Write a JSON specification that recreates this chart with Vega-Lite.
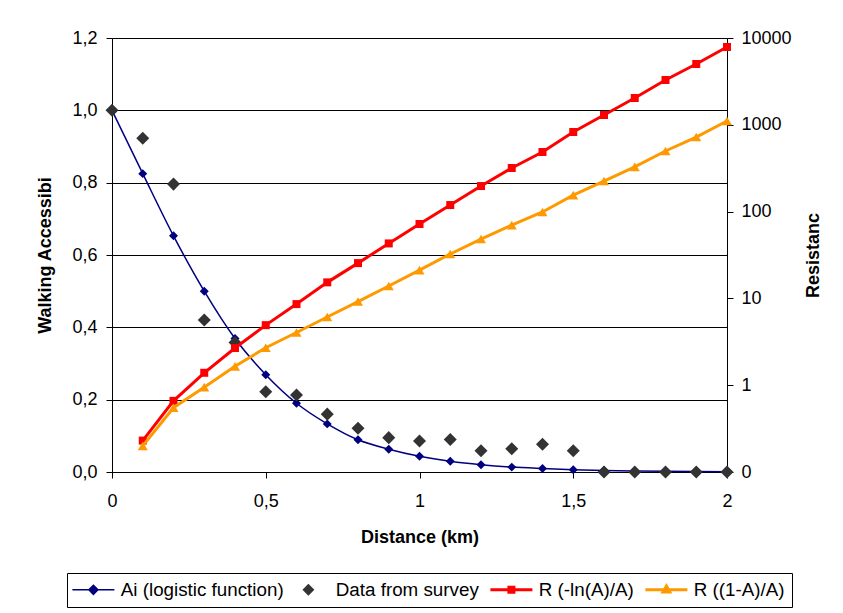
{
  "$schema": "https://vega.github.io/schema/vega-lite/v6.json",
  "width": 615,
  "height": 434,
  "autosize": {"type": "none"},
  "padding": {"left": 112, "top": 38, "right": 116, "bottom": 141},
  "background": "white",
  "config": {
    "font": "Liberation Sans",
    "view": {"stroke": null},
    "axis": {
      "labelFont": "Liberation Sans",
      "titleFont": "Liberation Sans",
      "labelFontSize": 18,
      "titleFontSize": 18,
      "titleFontWeight": "bold",
      "labelColor": "#000",
      "titleColor": "#000",
      "domainColor": "#000",
      "domainWidth": 1,
      "tickColor": "#000",
      "tickSize": 6,
      "tickWidth": 1,
      "grid": false
    },
    "legend": {"labelFont": "Liberation Sans"}
  },
  "data": {
    "values": [
      {"d": 0, "s": "Ai (logistic function)", "v": 1.0},
      {"d": 0.1, "s": "Ai (logistic function)", "v": 0.825},
      {"d": 0.2, "s": "Ai (logistic function)", "v": 0.653},
      {"d": 0.3, "s": "Ai (logistic function)", "v": 0.5},
      {"d": 0.4, "s": "Ai (logistic function)", "v": 0.369},
      {"d": 0.5, "s": "Ai (logistic function)", "v": 0.269},
      {"d": 0.6, "s": "Ai (logistic function)", "v": 0.19},
      {"d": 0.7, "s": "Ai (logistic function)", "v": 0.133},
      {"d": 0.8, "s": "Ai (logistic function)", "v": 0.089},
      {"d": 0.9, "s": "Ai (logistic function)", "v": 0.063},
      {"d": 1.0, "s": "Ai (logistic function)", "v": 0.0435},
      {"d": 1.1, "s": "Ai (logistic function)", "v": 0.0296},
      {"d": 1.2, "s": "Ai (logistic function)", "v": 0.02},
      {"d": 1.3, "s": "Ai (logistic function)", "v": 0.0135},
      {"d": 1.4, "s": "Ai (logistic function)", "v": 0.0095},
      {"d": 1.5, "s": "Ai (logistic function)", "v": 0.0062},
      {"d": 1.6, "s": "Ai (logistic function)", "v": 0.0042},
      {"d": 1.7, "s": "Ai (logistic function)", "v": 0.0029},
      {"d": 1.8, "s": "Ai (logistic function)", "v": 0.0019},
      {"d": 1.9, "s": "Ai (logistic function)", "v": 0.0013},
      {"d": 2.0, "s": "Ai (logistic function)", "v": 0.0009},
      {"d": 0, "s": "Data from survey", "v": 1.0},
      {"d": 0.1, "s": "Data from survey", "v": 0.923},
      {"d": 0.2, "s": "Data from survey", "v": 0.796},
      {"d": 0.3, "s": "Data from survey", "v": 0.42},
      {"d": 0.4, "s": "Data from survey", "v": 0.358},
      {"d": 0.5, "s": "Data from survey", "v": 0.222},
      {"d": 0.6, "s": "Data from survey", "v": 0.213},
      {"d": 0.7, "s": "Data from survey", "v": 0.16},
      {"d": 0.8, "s": "Data from survey", "v": 0.121},
      {"d": 0.9, "s": "Data from survey", "v": 0.095},
      {"d": 1.0, "s": "Data from survey", "v": 0.086},
      {"d": 1.1, "s": "Data from survey", "v": 0.09},
      {"d": 1.2, "s": "Data from survey", "v": 0.059},
      {"d": 1.3, "s": "Data from survey", "v": 0.064},
      {"d": 1.4, "s": "Data from survey", "v": 0.077},
      {"d": 1.5, "s": "Data from survey", "v": 0.059},
      {"d": 1.6, "s": "Data from survey", "v": 0},
      {"d": 1.7, "s": "Data from survey", "v": 0},
      {"d": 1.8, "s": "Data from survey", "v": 0},
      {"d": 1.9, "s": "Data from survey", "v": 0},
      {"d": 2.0, "s": "Data from survey", "v": 0},
      {"d": 0.1, "s": "R (-ln(A)/A)", "v": 0.23},
      {"d": 0.2, "s": "R (-ln(A)/A)", "v": 0.66},
      {"d": 0.3, "s": "R (-ln(A)/A)", "v": 1.39},
      {"d": 0.4, "s": "R (-ln(A)/A)", "v": 2.68},
      {"d": 0.5, "s": "R (-ln(A)/A)", "v": 4.92},
      {"d": 0.6, "s": "R (-ln(A)/A)", "v": 8.6},
      {"d": 0.7, "s": "R (-ln(A)/A)", "v": 15.3},
      {"d": 0.8, "s": "R (-ln(A)/A)", "v": 25.5},
      {"d": 0.9, "s": "R (-ln(A)/A)", "v": 43},
      {"d": 1.0, "s": "R (-ln(A)/A)", "v": 72},
      {"d": 1.1, "s": "R (-ln(A)/A)", "v": 119},
      {"d": 1.2, "s": "R (-ln(A)/A)", "v": 197},
      {"d": 1.3, "s": "R (-ln(A)/A)", "v": 318},
      {"d": 1.4, "s": "R (-ln(A)/A)", "v": 486},
      {"d": 1.5, "s": "R (-ln(A)/A)", "v": 826},
      {"d": 1.6, "s": "R (-ln(A)/A)", "v": 1297},
      {"d": 1.7, "s": "R (-ln(A)/A)", "v": 2036},
      {"d": 1.8, "s": "R (-ln(A)/A)", "v": 3283},
      {"d": 1.9, "s": "R (-ln(A)/A)", "v": 5015},
      {"d": 2.0, "s": "R (-ln(A)/A)", "v": 7877},
      {"d": 0.1, "s": "R ((1-A)/A)", "v": 0.2},
      {"d": 0.2, "s": "R ((1-A)/A)", "v": 0.55},
      {"d": 0.3, "s": "R ((1-A)/A)", "v": 0.95},
      {"d": 0.4, "s": "R ((1-A)/A)", "v": 1.65},
      {"d": 0.5, "s": "R ((1-A)/A)", "v": 2.7},
      {"d": 0.6, "s": "R ((1-A)/A)", "v": 4.05},
      {"d": 0.7, "s": "R ((1-A)/A)", "v": 6.1},
      {"d": 0.8, "s": "R ((1-A)/A)", "v": 9.2},
      {"d": 0.9, "s": "R ((1-A)/A)", "v": 13.9},
      {"d": 1.0, "s": "R ((1-A)/A)", "v": 21.2},
      {"d": 1.1, "s": "R ((1-A)/A)", "v": 32.5},
      {"d": 1.2, "s": "R ((1-A)/A)", "v": 48.3},
      {"d": 1.3, "s": "R ((1-A)/A)", "v": 70},
      {"d": 1.4, "s": "R ((1-A)/A)", "v": 99},
      {"d": 1.5, "s": "R ((1-A)/A)", "v": 155},
      {"d": 1.6, "s": "R ((1-A)/A)", "v": 225},
      {"d": 1.7, "s": "R ((1-A)/A)", "v": 327},
      {"d": 1.8, "s": "R ((1-A)/A)", "v": 499},
      {"d": 1.9, "s": "R ((1-A)/A)", "v": 723},
      {"d": 2.0, "s": "R ((1-A)/A)", "v": 1107}
    ]
  },
  "layer": [
    {
      "encoding": {
        "x": {
          "field": "d",
          "type": "quantitative",
          "scale": {"domain": [0, 2], "nice": false, "zero": false},
          "axis": {
            "title": "Distance (km)",
            "values": [0, 0.5, 1, 1.5, 2],
            "labelExpr": "replace(datum.value + '', '.', ',')",
            "labelFlush": false,
            "labelPadding": 14,
            "titleX": 307.5,
            "titleY": 65,
            "titleAlign": "center",
            "titleBaseline": "middle"
          }
        },
        "y": {
          "field": "v",
          "type": "quantitative",
          "scale": {"domain": [0, 1.2], "nice": false, "zero": false},
          "axis": {
            "orient": "left",
            "title": "Walking Accessibi",
            "values": [0, 0.2, 0.4, 0.6, 0.8, 1.0, 1.2],
            "labelExpr": "replace(format(datum.value, '.1f'), '.', ',')",
            "labelPadding": 9,
            "grid": true,
            "gridColor": "#000",
            "gridWidth": 1,
            "gridOpacity": 1,
            "titleAngle": 270,
            "titleX": -67,
            "titleY": 217,
            "titleAlign": "center",
            "titleBaseline": "middle"
          }
        }
      },
      "layer": [
        {
          "transform": [{"filter": "datum.s == 'Ai (logistic function)'"}],
          "mark": {"type": "line", "color": "#000080", "strokeWidth": 1.5, "interpolate": "monotone"}
        },
        {
          "transform": [{"filter": "datum.s == 'Ai (logistic function)'"}],
          "mark": {"type": "point", "shape": "diamond", "filled": true, "color": "#000080", "size": 80, "opacity": 1}
        },
        {
          "transform": [{"filter": "datum.s == 'Data from survey'"}],
          "mark": {"type": "point", "shape": "diamond", "filled": true, "color": "#333333", "size": 170, "opacity": 1}
        },
        {
          "transform": [{"filter": "datum.s == 'Data from survey'"}],
          "mark": {"type": "point", "filled": true, "opacity": 0, "size": 441},
          "encoding": {
            "color": {
              "field": "s",
              "type": "nominal",
              "scale": {
                "domain": ["Ai (logistic function)", "Data from survey", "R (-ln(A)/A)", "R ((1-A)/A)"],
                "range": ["#000080", "#333333", "#FF0000", "#FF9900"]
              },
              "legend": {
                "title": null,
                "orient": "none",
                "legendX": -45,
                "legendY": 535,
                "direction": "horizontal",
                "columns": 4,
                "columnPadding": 5,
                "padding": 7,
                "strokeColor": "#000",
                "fillColor": "#fff",
                "labelFontSize": 18.8,
                "labelColor": "#000",
                "labelLimit": 400,
                "labelOffset": 18,
                "symbolOffset": 10,
                "symbolSize": 441,
                "symbolOpacity": 1,
                "symbolStrokeWidth": 1.5,
                "encode": {
                  "symbols": {
                    "update": {
                      "opacity": {"value": 1},
                      "fill": {"scale": "color", "field": "value"},
                      "stroke": {"scale": "color", "field": "value"},
                      "strokeWidth": {"signal": "datum.value == 'Ai (logistic function)' ? 1.5 : (datum.value == 'Data from survey' ? 0 : 3)"}
                    }
                  }
                }
              }
            },
            "shape": {
              "field": "s",
              "type": "nominal",
              "scale": {
                "domain": ["Ai (logistic function)", "Data from survey", "R (-ln(A)/A)", "R ((1-A)/A)"],
                "range": [
                  "M-2,0H2M0,-0.43L0.43,0L0,0.43L-0.43,0Z",
                  "M0,-0.57L0.57,0L0,0.57L-0.57,0Z",
                  "M-2,0H2M-0.24,-0.24H0.24V0.24H-0.24Z",
                  "M-2,0H2M0,-0.36L0.32,0.22H-0.32Z"
                ]
              },
              "legend": null
            }
          }
        }
      ]
    },
    {
      "encoding": {
        "x": {
          "field": "d",
          "type": "quantitative",
          "scale": {"domain": [0, 2], "nice": false, "zero": false},
          "axis": {
            "title": "Distance (km)",
            "values": [0, 0.5, 1, 1.5, 2],
            "labelExpr": "replace(datum.value + '', '.', ',')",
            "labelFlush": false,
            "labelPadding": 14,
            "titleX": 307.5,
            "titleY": 65,
            "titleAlign": "center",
            "titleBaseline": "middle"
          }
        },
        "y": {
          "field": "v",
          "type": "quantitative",
          "scale": {"type": "log", "domain": [0.1, 10000], "nice": false},
          "axis": {
            "orient": "right",
            "title": "Resistanc",
            "values": [0.1, 1, 10, 100, 1000, 10000],
            "labelExpr": "datum.value < 1 ? '0' : format(datum.value, 'd')",
            "labelPadding": 8,
            "grid": false,
            "titleAngle": 270,
            "titleX": 86,
            "titleY": 217,
            "titleAlign": "center",
            "titleBaseline": "middle"
          }
        }
      },
      "layer": [
        {
          "transform": [{"filter": "datum.s == 'R (-ln(A)/A)'"}],
          "mark": {"type": "line", "color": "#FF0000", "strokeWidth": 3}
        },
        {
          "transform": [{"filter": "datum.s == 'R (-ln(A)/A)'"}],
          "mark": {"type": "point", "shape": "square", "filled": true, "color": "#FF0000", "size": 64, "opacity": 1}
        },
        {
          "transform": [{"filter": "datum.s == 'R ((1-A)/A)'"}],
          "mark": {"type": "line", "color": "#FF9900", "strokeWidth": 3}
        },
        {
          "transform": [{"filter": "datum.s == 'R ((1-A)/A)'"}],
          "mark": {"type": "point", "shape": "triangle-up", "filled": true, "color": "#FF9900", "size": 100, "opacity": 1}
        }
      ]
    }
  ],
  "resolve": {"scale": {"y": "independent"}, "axis": {"y": "independent"}}
}
